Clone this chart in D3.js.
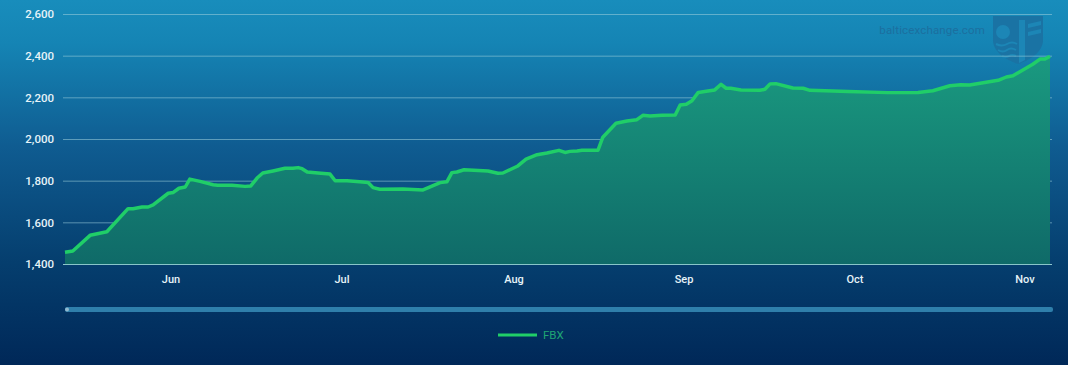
<!DOCTYPE html>
<html>
<head>
<meta charset="utf-8">
<title>FBX</title>
<script src="https://cdnjs.cloudflare.com/ajax/libs/d3/7.8.5/d3.min.js"></script>
<style>
	html, body { margin: 0; padding: 0; background: #002a58; }
	svg { display: block; }
	text { font-family: Roboto, "Open Sans", sans-serif; }
</style>
</head>
<body>
<div id="chart"></div>
<script>
// days counted from the first session shown on the chart
var days = [0, 1.4, 4.5, 7.5, 11.3, 12.2, 13.8, 14.9, 15.8, 18.5,
	19.4, 20.4, 21.5, 22.3, 24.1, 26.4, 27.2, 29.7, 32, 33, 34.1, 35.1, 36.9, 39, 40.4, 41.3, 42, 42.9, 44.8, 46.9, 47.8,
	49.9, 52.2, 53.7, 54.6, 55.8, 60, 63.6, 66.7, 67.9, 68.8, 69.7, 71, 75.3, 77.1, 78,
	80.7, 82.2, 84.2, 86, 88.2, 89.3, 90.2, 91.5, 92.4, 95.3, 96.2, 98.6, 100.6, 102.4, 103.5, 104.8, 107, 109.4, 110.3,
	111.4, 112.4, 113.5, 115.2, 116.4, 117.5, 118.4, 119.2, 121, 124.3, 125.2, 126.1, 127.1, 130.1, 131.9, 133.1, 139.8,
	147, 152.5, 155.2, 158.3, 160.3, 161.9, 167.1, 168.6, 169.8,
	173.4, 174.7, 175.6, 176.5];

var fbx = [1459, 1465, 1540, 1557, 1668, 1668, 1676, 1676, 1686, 1742,
	1746, 1766, 1772, 1810, 1799, 1783, 1780, 1780, 1775, 1777, 1815, 1839, 1849, 1862, 1862, 1865, 1860, 1844, 1839, 1834, 1802,
	1802, 1797, 1794, 1769, 1761, 1762, 1758, 1793, 1797, 1841, 1844, 1855, 1849, 1838, 1839,
	1873, 1906, 1927, 1935, 1948, 1938, 1943, 1945, 1948, 1948, 2011, 2078, 2089, 2095, 2116, 2113, 2116, 2118, 2166,
	2169, 2186, 2226, 2233, 2238, 2265, 2246, 2246, 2238, 2236, 2241, 2267, 2268, 2247, 2246, 2236, 2230,
	2225, 2226, 2234, 2258, 2263, 2262, 2284, 2300, 2306,
	2361, 2386, 2386, 2400];

var monthLabels = ['Jun', 'Jul', 'Aug', 'Sep', 'Oct', 'Nov'];
var monthStarts = [19, 49, 80, 111, 141, 172];
var yTicks = [1400, 1600, 1800, 2000, 2200, 2400, 2600];
var seriesName = 'FBX';

var width = 1068, height = 365;
var plotLeft = 65, plotRight = 1050, gridLeft = 63, gridRight = 1052;
var plotTop = 14.5, plotBottom = 264.5;

var svg = d3.select('#chart').append('svg')
	.attr('width', width)
	.attr('height', height);

var defs = svg.append('defs');

var bg = defs.append('linearGradient').attr('id', 'bg').attr('x1', 0).attr('x2', 0).attr('y1', 0).attr('y2', 1);
bg.append('stop').attr('offset', '0%').attr('stop-color', '#188dbc');
bg.append('stop').attr('offset', '12%').attr('stop-color', '#1584b4');
bg.append('stop').attr('offset', '40%').attr('stop-color', '#0f5c91');
bg.append('stop').attr('offset', '72%').attr('stop-color', '#053e6e');
bg.append('stop').attr('offset', '100%').attr('stop-color', '#002858');

var fillGrad = defs.append('linearGradient').attr('id', 'fill').attr('gradientUnits', 'userSpaceOnUse')
	.attr('x1', 0).attr('x2', 0).attr('y1', 56).attr('y2', plotBottom);
fillGrad.append('stop').attr('offset', '0%').attr('stop-color', '#1a9a80');
fillGrad.append('stop').attr('offset', '100%').attr('stop-color', '#0f6a68');

svg.append('rect').attr('width', width).attr('height', height).attr('fill', 'url(#bg)');

// months take the same width on this axis, whatever their number of days
var x = d3.scaleLinear()
	.domain([0].concat(monthStarts, [176.5]))
	.range([plotLeft, 171, 342, 514, 684, 855, 1025, plotRight]);

var y = d3.scaleLinear().domain([1400, 2600]).range([plotBottom, plotTop]);

var points = days.map(function(d, i) { return {day: d, value: fbx[i]}; });

// watermark
var mark = svg.append('g').attr('class', 'watermark');
mark.append('text')
	.attr('x', 985).attr('y', 34)
	.attr('text-anchor', 'end')
	.attr('fill', '#1c6f9f')
	.style('font-size', '11.5px')
	.style('letter-spacing', '0.15px')
	.text('balticexchange.com');
mark.append('path')
	.attr('d', 'M993,16 H1043 V40 C1043,52 1030,60 1018,64 C1006,60 993,52 993,40 Z')
	.attr('fill', '#1a73a4');
mark.append('path')
	.attr('d', 'M1019,20 h6 v40 l-6,3 Z M1028,24 l13,-3 v4 l-13,3 Z M1028,32 l13,-3 v4 l-13,3 Z')
	.attr('fill', '#1c86b6');
mark.append('circle').attr('cx', 1003).attr('cy', 32).attr('r', 7).attr('fill', '#1c86b6');
mark.append('path')
	.attr('d', 'M996,44 q6,3 11,0 t10,0 M998,50 q5,3 9,0 t9,0 M1002,56 q4,2 7,0 t7,0')
	.attr('fill', 'none').attr('stroke', '#1c86b6').attr('stroke-width', 2);

// grid and y axis
var yAxis = d3.axisLeft(y)
	.tickValues(yTicks)
	.tickSize(gridLeft - gridRight)
	.tickPadding(9)
	.offset(0)
	.tickFormat(d3.format(','));

var yG = svg.append('g')
	.attr('transform', 'translate(' + gridLeft + ',0)')
	.call(yAxis);
yG.select('.domain').remove();
yG.selectAll('line').attr('stroke', '#9fd0dc').attr('stroke-opacity', 0.55);
yG.selectAll('text').attr('fill', '#e6f3f8').style('font-size', '11.5px').style('font-weight', 500);

// area and line
var area = d3.area()
	.x(function(d) { return x(d.day); })
	.y0(y(1400))
	.y1(function(d) { return y(d.value); });

var line = d3.line()
	.x(function(d) { return x(d.day); })
	.y(function(d) { return y(d.value); });

svg.append('path').datum(points)
	.attr('fill', 'url(#fill)')
	.attr('d', area);

svg.append('path').datum(points)
	.attr('fill', 'none')
	.attr('stroke', '#20ce68')
	.attr('stroke-width', 3.5)
	.attr('stroke-linejoin', 'round')
	.attr('d', line);

svg.append('line')
	.attr('x1', gridLeft).attr('x2', gridRight)
	.attr('y1', y(1400)).attr('y2', y(1400))
	.attr('stroke', '#9fd8d8').attr('stroke-opacity', 0.8);

// month axis
var xAxis = d3.axisBottom(x)
	.tickValues(monthStarts)
	.tickSize(0)
	.tickPadding(11)
	.offset(0)
	.tickFormat(function(d, i) { return monthLabels[i]; });

var xG = svg.append('g')
	.attr('transform', 'translate(0,' + plotBottom + ')')
	.call(xAxis);
xG.select('.domain').remove();
xG.selectAll('text').attr('fill', '#e6f3f8').style('font-size', '11px').style('font-weight', 500);

// scrollbar
svg.append('rect')
	.attr('x', 65).attr('y', 307)
	.attr('width', 988).attr('height', 5)
	.attr('rx', 2)
	.attr('fill', '#2f7fab');
svg.append('circle').attr('cx', 67).attr('cy', 309.5).attr('r', 2).attr('fill', '#8fb8cf');

// legend
svg.append('line')
	.attr('x1', 498).attr('x2', 537)
	.attr('y1', 335).attr('y2', 335)
	.attr('stroke', '#20ce68')
	.attr('stroke-width', 3);
svg.append('text')
	.attr('x', 543).attr('y', 339)
	.attr('fill', '#1fa574')
	.style('font-size', '11.5px')
	.text(seriesName);
</script>
</body>
</html>
